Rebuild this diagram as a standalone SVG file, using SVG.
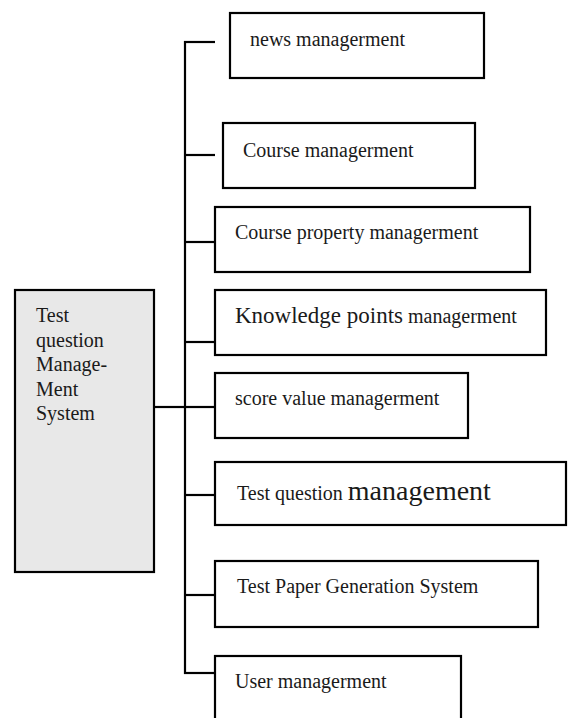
<svg xmlns="http://www.w3.org/2000/svg" width="568" height="718" viewBox="0 0 568 718">
<style>
.box{fill:#ffffff;stroke:#000;stroke-width:2.2}
.main{fill:#e8e8e8;stroke:#000;stroke-width:2.2}
.t{font-family:"Liberation Serif","Times New Roman",serif;font-size:20px;fill:#1a1a1a}
.c{stroke:#000;stroke-width:2.2;fill:none}
</style>
<rect width="568" height="718" fill="#fff"/>
<g id="connectors">
<line class="c" x1="185" y1="41" x2="185" y2="674"/>
<line class="c" x1="154" y1="407" x2="185" y2="407"/>
<line class="c" x1="184" y1="42" x2="215" y2="42"/>
<line class="c" x1="184" y1="155" x2="215" y2="155"/>
<line class="c" x1="184" y1="242" x2="215" y2="242"/>
<line class="c" x1="184" y1="342" x2="215" y2="342"/>
<line class="c" x1="184" y1="407" x2="215" y2="407"/>
<line class="c" x1="184" y1="495" x2="215" y2="495"/>
<line class="c" x1="184" y1="595" x2="215" y2="595"/>
<line class="c" x1="184" y1="673" x2="215" y2="673"/>
</g>
<g id="main">
<rect class="main" x="15" y="290" width="139" height="282"/>
<text class="t" x="36" y="322">Test</text>
<text class="t" x="36" y="347">question</text>
<text class="t" x="36" y="371">Manage-</text>
<text class="t" x="36" y="396">Ment</text>
<text class="t" x="36" y="420">System</text>
</g>
<g id="news">
<rect class="box" x="230" y="13" width="254" height="65"/>
<text class="t" x="250" y="46">news managerment</text>
</g>
<g id="course">
<rect class="box" x="223" y="123" width="252" height="65"/>
<text class="t" x="243" y="157">Course managerment</text>
</g>
<g id="course-property">
<rect class="box" x="215" y="207" width="315" height="65"/>
<text class="t" x="235" y="239">Course property managerment</text>
</g>
<g id="knowledge">
<rect class="box" x="215" y="290" width="331" height="65"/>
<text class="t" x="235" y="323"><tspan font-size="23">Knowledge points</tspan> managerment</text>
</g>
<g id="score">
<rect class="box" x="215" y="373" width="253" height="65"/>
<text class="t" x="235" y="405">score value managerment</text>
</g>
<g id="test-question">
<rect class="box" x="215" y="462" width="351" height="63"/>
<text class="t" x="237" y="500">Test question <tspan font-size="28">management</tspan></text>
</g>
<g id="test-paper">
<rect class="box" x="215" y="561" width="323" height="66"/>
<text class="t" x="237" y="593">Test Paper Generation System</text>
</g>
<g id="user">
<rect class="box" x="215" y="656" width="246" height="72"/>
<text class="t" x="235" y="688">User managerment</text>
</g>
</svg>
